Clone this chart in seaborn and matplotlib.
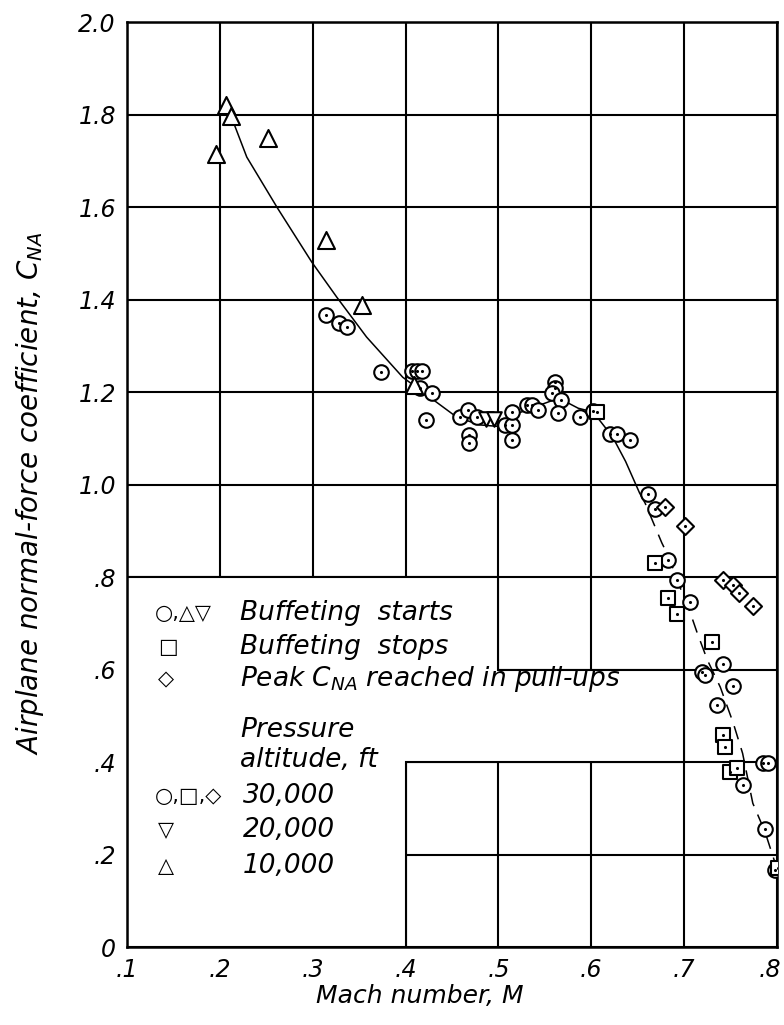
import numpy as np
import pandas as pd
import seaborn as sns
import matplotlib.pyplot as plt
from matplotlib.patches import Polygon
from matplotlib.transforms import ScaledTranslation

# buffeting starts, 30,000 ft (circles)
circ_m = [0.314, 0.328, 0.337, 0.374, 0.407, 0.412, 0.418, 0.416, 0.428, 0.422,
          0.459, 0.467, 0.477, 0.468, 0.468, 0.507, 0.515, 0.515, 0.515, 0.531,
          0.536, 0.543, 0.561, 0.561, 0.558, 0.567, 0.564, 0.588, 0.602, 0.620,
          0.628, 0.642, 0.661, 0.669, 0.683, 0.692, 0.706, 0.742, 0.719, 0.722,
          0.753, 0.735, 0.785, 0.790, 0.763, 0.787, 0.798]
circ_cn = [1.367, 1.349, 1.341, 1.243, 1.245, 1.245, 1.245, 1.209, 1.198, 1.139,
           1.146, 1.161, 1.146, 1.107, 1.090, 1.129, 1.129, 1.157, 1.096, 1.172,
           1.172, 1.161, 1.222, 1.209, 1.198, 1.183, 1.155, 1.146, 1.159, 1.109,
           1.109, 1.096, 0.979, 0.947, 0.837, 0.794, 0.746, 0.612, 0.595, 0.588,
           0.564, 0.523, 0.398, 0.398, 0.350, 0.255, 0.166]

# buffeting starts, 10,000 ft (triangles)
tri_m = [0.196, 0.207, 0.212, 0.252, 0.314, 0.353, 0.409]
tri_cn = [1.715, 1.820, 1.797, 1.749, 1.529, 1.388, 1.215]

# buffeting starts, 20,000 ft (down triangles)
dtri_m = [0.487, 0.495]
dtri_cn = [1.142, 1.142]

# buffeting stops (squares)
sq_m = [0.606, 0.669, 0.683, 0.692, 0.730, 0.742, 0.744, 0.749, 0.757, 0.801]
sq_cn = [1.157, 0.830, 0.755, 0.720, 0.659, 0.458, 0.432, 0.378, 0.387, 0.171]

# peak CNA in pull-ups (diamonds)
dia_m = [0.679, 0.701, 0.742, 0.753, 0.759, 0.774]
dia_cn = [0.951, 0.910, 0.794, 0.783, 0.765, 0.737]

# faired curve
solid_m = [0.212, 0.229, 0.262, 0.299, 0.326, 0.358, 0.397, 0.426, 0.455, 0.480,
           0.498, 0.516, 0.535, 0.553, 0.565, 0.586, 0.602, 0.623, 0.637, 0.652]
solid_cn = [1.797, 1.708, 1.598, 1.481, 1.405, 1.319, 1.232, 1.189, 1.146, 1.129,
            1.126, 1.150, 1.165, 1.178, 1.187, 1.165, 1.157, 1.103, 1.050, 0.982]
dash_m = [0.652, 0.658, 0.676, 0.685, 0.692, 0.703, 0.714, 0.725, 0.739, 0.753,
          0.763, 0.774, 0.787, 0.798]
dash_cn = [0.982, 0.960, 0.874, 0.837, 0.794, 0.744, 0.680, 0.621, 0.562, 0.484,
           0.419, 0.311, 0.250, 0.182]

x_ticks = [0.1, 0.2, 0.3, 0.4, 0.5, 0.6, 0.7, 0.8]
x_labels = [".1", ".2", ".3", ".4", ".5", ".6", ".7", ".8"]
y_ticks = [0, 0.2, 0.4, 0.6, 0.8, 1.0, 1.2, 1.4, 1.6, 1.8, 2.0]
y_labels = ["0", ".2", ".4", ".6", ".8", "1.0", "1.2", "1.4", "1.6", "1.8", "2.0"]

sns.set_style("white")
plt.rcParams['font.family'] = ['DejaVu Sans']
plt.rcParams['text.color'] = 'black'
plt.rcParams['axes.labelcolor'] = 'black'
plt.rcParams['xtick.color'] = 'black'
plt.rcParams['ytick.color'] = 'black'
plt.rcParams['mathtext.fontset'] = 'custom'
plt.rcParams['mathtext.rm'] = 'DejaVu Sans:italic'
plt.rcParams['mathtext.it'] = 'DejaVu Sans:italic'

fig = plt.figure(figsize=(7.84, 10.25), dpi=100)
ax = fig.add_axes([0.162, 0.076, 0.829, 0.9025])

ax.set_xlim(0.1, 0.8)
ax.set_ylim(0, 2.0)
ax.set_xticks(x_ticks)
ax.set_yticks(y_ticks)
ax.set_xticklabels(x_labels, fontsize=17, fontstyle='italic')
ax.set_yticklabels(y_labels, fontsize=17, fontstyle='italic')
ax.tick_params(direction='in', length=5, width=1.4, pad=8, color='black')
last = ax.get_xticklabels()[-1]
last.set_transform(last.get_transform() + ScaledTranslation(-5 / 72, 0, fig.dpi_scale_trans))
ax.set_axisbelow(True)
ax.grid(True, color='black', linewidth=1.5)
for s in ax.spines.values():
    s.set_color('black')
    s.set_linewidth(1.8)

# blank area for the key
key = Polygon([(0.1, 0), (0.4, 0), (0.4, 0.4), (0.7, 0.4), (0.7, 0.6), (0.5, 0.6),
               (0.5, 0.8), (0.1, 0.8)], closed=True, facecolor='white',
              edgecolor='black', linewidth=1.5, zorder=1)
ax.add_patch(key)

sns.lineplot(x=solid_m, y=solid_cn, sort=False, estimator=None, color='black',
             linewidth=1.1, ax=ax, zorder=2)
sns.lineplot(x=dash_m, y=dash_cn, sort=False, estimator=None, color='black',
             linewidth=1.1, dashes=False, ax=ax, zorder=2, linestyle=(0, (9, 6)))

mk = dict(facecolor='white', edgecolor='black', linewidth=1.5, zorder=3, ax=ax)
sns.scatterplot(x=circ_m, y=circ_cn, marker='o', s=110, **mk)
sns.scatterplot(x=sq_m, y=sq_cn, marker='s', s=90, **mk)
sns.scatterplot(x=dia_m, y=dia_cn, marker='D', s=75, **mk)
sns.scatterplot(x=tri_m, y=tri_cn, marker='^', s=150, **mk)
sns.scatterplot(x=dtri_m, y=dtri_cn, marker='v', s=110, **mk)
dots_m = circ_m + sq_m + dia_m
dots_cn = circ_cn + sq_cn + dia_cn
sns.scatterplot(x=dots_m, y=dots_cn, marker='o', s=5, color='black',
                linewidth=0, zorder=4, ax=ax)

# key text
fs = 19
sym = dict(fontsize=15, va='center', ha='left', zorder=5)
txt = dict(fontsize=fs, va='center', ha='left', fontstyle='italic', zorder=5)
def tx(px, py):
    return (0.1 + (px - 127) / 928.6, (947 - py) / 462.5)

ax.text(*tx(155, 613), "○,△▽", **sym)
ax.text(*tx(240, 613), "Buffeting  starts", **txt)
ax.text(*tx(158, 647), "□", **sym)
ax.text(*tx(240, 647), "Buffeting  stops", **txt)
ax.text(*tx(158, 679), "◇", **sym)
ax.text(*tx(240, 679), "Peak $C_{NA}$ reached in pull-ups", **txt)
ax.text(*tx(240, 730), "Pressure", **txt)
ax.text(*tx(240, 760), "altitude, ft", **txt)
ax.text(*tx(155, 796), "○,□,◇", **sym)
ax.text(*tx(243, 796), "30,000", **txt)
ax.text(*tx(158, 830), "▽", **sym)
ax.text(*tx(243, 830), "20,000", **txt)
ax.text(*tx(158, 866), "△", **sym)
ax.text(*tx(243, 866), "10,000", **txt)

ax.set_xlabel("Mach number, M", fontsize=18, fontstyle='italic')
ax.xaxis.set_label_coords(0.45, -0.04)
ax.set_ylabel("Airplane normal-force coefficient, $C_{NA}$", fontsize=20,
              fontstyle='italic')
ax.yaxis.set_label_coords(-0.125, 0.49)

fig.savefig("out.png", dpi=100)
